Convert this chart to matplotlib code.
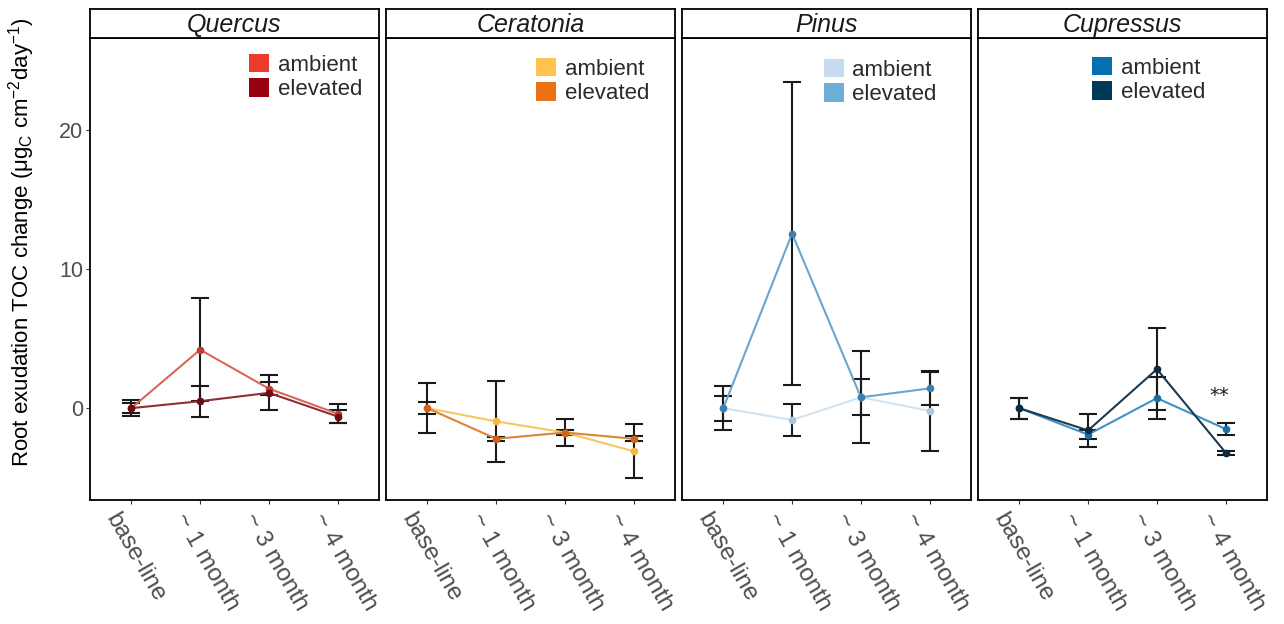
import matplotlib
matplotlib.use("Agg")
import matplotlib.pyplot as plt
import matplotlib.transforms as mtrans
from matplotlib.patches import Patch
import numpy as np

plt.rcParams['font.family'] = ['Liberation Sans', 'DejaVu Sans']
plt.rcParams['mathtext.fontset'] = 'custom'
plt.rcParams['mathtext.rm'] = 'Liberation Sans'
plt.rcParams['mathtext.it'] = 'Liberation Sans:italic'

times = ['base-line', '~ 1 month', '~ 3 month', '~ 4 month']
species = ['Quercus', 'Ceratonia', 'Pinus', 'Cupressus']

quercus_amb = [0.0, 4.2, 1.4, -0.4]
quercus_amb_se = [0.35, 3.7, 0.47, 0.68]
quercus_elev = [0.0, 0.5, 1.1, -0.6]
quercus_elev_se = [0.58, 1.1, 1.25, 0.45]

ceratonia_amb = [0.0, -0.95, -1.75, -3.1]
ceratonia_amb_se = [1.8, 2.9, 1.0, 1.95]
ceratonia_elev = [0.0, -2.2, -1.75, -2.2]
ceratonia_elev_se = [0.45, 0.15, 0.15, 0.18]

pinus_amb = [0.0, -0.85, 0.78, -0.2]
pinus_amb_se = [1.6, 1.13, 3.3, 2.9]
pinus_elev = [0.0, 12.55, 0.78, 1.42]
pinus_elev_se = [0.9, 10.9, 1.3, 1.2]

cupressus_amb = [0.0, -1.9, 0.72, -1.5]
cupressus_amb_se = [0.75, 0.35, 1.5, 0.45]
cupressus_elev = [0.0, -1.6, 2.8, -3.2]
cupressus_elev_se = [0.75, 1.2, 2.95, 0.15]

data = {
    'Quercus': (quercus_amb, quercus_amb_se, quercus_elev, quercus_elev_se),
    'Ceratonia': (ceratonia_amb, ceratonia_amb_se, ceratonia_elev, ceratonia_elev_se),
    'Pinus': (pinus_amb, pinus_amb_se, pinus_elev, pinus_elev_se),
    'Cupressus': (cupressus_amb, cupressus_amb_se, cupressus_elev, cupressus_elev_se),
}
colors = {
    'Quercus': ('#EF3B2C', '#99000D'),
    'Ceratonia': ('#FEC44F', '#EC7014'),
    'Pinus': ('#C6DBEF', '#6BAED6'),
    'Cupressus': ('#0570B0', '#023858'),
}
line_colors = {
    'Quercus': ('#D9665A', '#8E2F33'),
    'Ceratonia': ('#F8C860', '#D98535'),
    'Pinus': ('#D3E2EF', '#6AA6CB'),
    'Cupressus': ('#3F92C4', '#1C3A50'),
}
point_colors = {
    'Quercus': ('#C83A30', '#6E0A12'),
    'Ceratonia': ('#F5B940', '#D0641A'),
    'Pinus': ('#A9C6E0', '#3F7FAF'),
    'Cupressus': ('#1570A8', '#0E2A40'),
}
legend_pos = {
    'Quercus': (0.55, 0.970),
    'Ceratonia': (0.52, 0.961),
    'Pinus': (0.49, 0.959),
    'Cupressus': (0.395, 0.963),
}
sig_x = [4]
sig_y = [0.9]
sig_text = ['**']

W, H = 1284, 624
fig = plt.figure(figsize=(W / 100, H / 100), dpi=100)

lefts = [90, 386, 682, 978]
pw = 289
ptop, pbot = 38, 500
strip_top = 9

x = np.arange(1, 5)
lab_off = mtrans.ScaledTranslation(-11 / 100, -9 / 100, fig.dpi_scale_trans)
for i, sp in enumerate(species):
    l = lefts[i]
    ax = fig.add_axes([l / W, 1 - pbot / H, pw / W, (pbot - ptop) / H])
    amb, amb_se, elev, elev_se = data[sp]
    ca, ce = colors[sp]
    la, le = line_colors[sp]
    pa, pe = point_colors[sp]
    for vals, se in ((amb, amb_se), (elev, elev_se)):
        ax.errorbar(x, vals, yerr=se, fmt='none', ecolor='#1a1a1a', elinewidth=1.5,
                    capsize=6.2, capthick=1.5, zorder=2)
    ax.plot(x, amb, color=la, lw=1.5, zorder=3)
    ax.plot(x, elev, color=le, lw=1.5, zorder=3)
    ax.plot(x, amb, 'o', color=pa, ms=4.5, zorder=4)
    ax.plot(x, elev, 'o', color=pe, ms=4.5, zorder=4)
    ax.set_xlim(0.4, 4.6)
    ax.set_ylim(-6.6, 26.6)
    ax.set_xticks(x)
    ax.set_xticklabels([])
    for xi, t in zip(x, times):
        ax.text(xi, 0, t, rotation=-60, ha='left', va='top', rotation_mode='anchor',
                fontsize=17.5, color='#4D4D4D',
                transform=ax.get_xaxis_transform() + lab_off)
    ax.tick_params(axis='x', length=3, color='#333333', pad=3)
    if i == 0:
        ax.set_yticks([0, 10, 20])
        ax.set_yticklabels(['0', '10', '20'], fontsize=15.5, color='#4D4D4D')
        ax.tick_params(axis='y', length=3, color='#333333', pad=2)
    else:
        ax.set_yticks([])
    for s in ax.spines.values():
        s.set_linewidth(1.3)
        s.set_color('black')
    handles = [Patch(facecolor=ca, edgecolor='none', label='ambient'),
               Patch(facecolor=ce, edgecolor='none', label='elevated')]
    lx, ly = legend_pos[sp]
    ax.legend(handles=handles, loc='upper left', bbox_to_anchor=(lx, ly - 0.004),
              frameon=False, fontsize=16, handlelength=0.9, handleheight=0.9,
              handletextpad=0.4, labelspacing=0.12, borderpad=0, borderaxespad=0,
              labelcolor='#2a2a2a')
    if sp == 'Cupressus':
        for sx, sy, st in zip(sig_x, sig_y, sig_text):
            ax.text(sx - 0.1, sy, st, ha='center', va='center', fontsize=14,
                    family='DejaVu Sans', color='#1a1a1a')
    # strip
    sax = fig.add_axes([l / W, 1 - ptop / H, pw / W, (ptop - strip_top) / H])
    sax.set_xticks([])
    sax.set_yticks([])
    sax.set_facecolor('white')
    for s in sax.spines.values():
        s.set_linewidth(1.3)
        s.set_color('black')
    sax.text(0.5, 0.45, sp, ha='center', va='center', fontsize=18, style='italic',
             color='#1a1a1a', transform=sax.transAxes)

fig.text(22 / W, 1 - 242 / H,
         r'Root exudation TOC change (μg$_{\mathrm{C}}$ cm$^{-2}$day$^{-1}$)',
         rotation=90, ha='center', va='center', fontsize=16, color='black')

fig.savefig('out.png', dpi=100)
